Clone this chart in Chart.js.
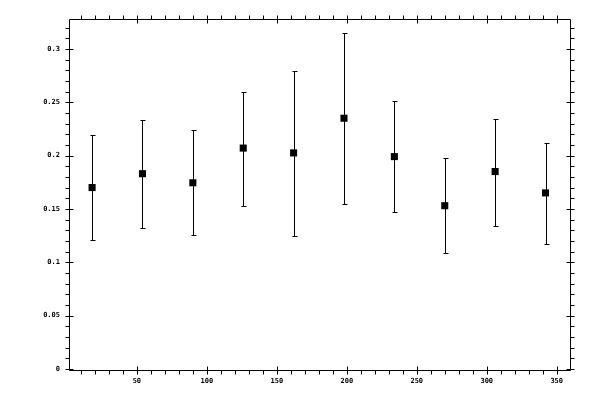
<!DOCTYPE html>
<html>
<head>
<meta charset="utf-8">
<script src="https://cdn.jsdelivr.net/npm/chart.js@4/dist/chart.umd.min.js"></script>
<style>
  html, body { margin: 0; padding: 0; background: #fff; }
</style>
</head>
<body>
<canvas id="mycanvas" width="600" height="400"></canvas>
<script>
// data
var xValues = [18, 54, 90, 126, 162, 198, 234, 270, 306, 342];
var means   = [0.170, 0.183, 0.1745, 0.207, 0.2025, 0.235, 0.199, 0.153, 0.185, 0.165];
var uppers  = [0.219, 0.233, 0.224, 0.260, 0.279, 0.315, 0.251, 0.198, 0.234, 0.212];
var lowers  = [0.121, 0.132, 0.126, 0.153, 0.125, 0.155, 0.147, 0.109, 0.134, 0.1175];
var xMajorTicks = [50, 100, 150, 200, 250, 300, 350];
var yMajorTicks = [0, 0.05, 0.1, 0.15, 0.2, 0.25, 0.3];

var points = [];
for (var i in xValues) {
    points.push({x: xValues[i], y: means[i]});
}

var labelFont = {family: 'DejaVu Sans Mono', size: 7, weight: 'bold'};

// error bars, drawn under the squares
var errorBars = {
    id: 'errorBars',
    beforeDatasetsDraw: function (chart) {
        var ctx = chart.ctx, xs = chart.scales.x, ys = chart.scales.y;
        ctx.save();
        ctx.strokeStyle = '#000';
        ctx.lineWidth = 1;
        for (var i = 0; i < xValues.length; i++) {
            var px = Math.round(xs.getPixelForValue(xValues[i])) + 0.5;
            var top = Math.round(ys.getPixelForValue(uppers[i])) + 0.5;
            var bot = Math.round(ys.getPixelForValue(lowers[i])) + 0.5;
            ctx.beginPath();
            ctx.moveTo(px, top); ctx.lineTo(px, bot);
            ctx.moveTo(px - 2, top); ctx.lineTo(px + 3, top);
            ctx.moveTo(px - 2, bot); ctx.lineTo(px + 3, bot);
            ctx.stroke();
        }
        ctx.restore();
    }
};

// box frame with ticks on all four sides
var frame = {
    id: 'frame',
    afterDraw: function (chart) {
        var ctx = chart.ctx, a = chart.chartArea, xs = chart.scales.x, ys = chart.scales.y;
        var L = Math.round(a.left) + 0.5, R = Math.round(a.right) + 0.5;
        var T = Math.round(a.top) + 0.5, B = Math.round(a.bottom) + 0.5;
        ctx.save();
        ctx.strokeStyle = '#000';
        ctx.lineWidth = 1;
        ctx.beginPath();
        ctx.rect(L, T, R - L, B - T);
        for (var v = 10; v <= 350; v += 10) {
            var px = Math.round(xs.getPixelForValue(v)) + 0.5;
            var major = xMajorTicks.indexOf(v) >= 0;
            ctx.moveTo(px, B + 4); ctx.lineTo(px, major ? B - 4 : B);
            ctx.moveTo(px, T - 4); ctx.lineTo(px, major ? T + 4 : T);
        }
        for (var k = 0; k <= 32; k++) {
            var py = Math.round(ys.getPixelForValue(k / 100)) + 0.5;
            var ymaj = k % 5 === 0;
            ctx.moveTo(L - 4, py); ctx.lineTo(ymaj ? L + 4 : L, py);
            ctx.moveTo(R + 4, py); ctx.lineTo(ymaj ? R - 4 : R, py);
        }
        ctx.stroke();
        ctx.restore();
    }
};

var ctx = document.getElementById('mycanvas');
var myChart = new Chart(ctx, {
    type: 'scatter',
    data: {
        datasets: [{
            data: points,
            backgroundColor: '#000',
            borderColor: '#000',
            borderWidth: 0,
            pointStyle: 'rect',
            pointRadius: 5,
            pointHoverRadius: 5
        }]
    },
    options: {
        responsive: false,
        animation: false,
        devicePixelRatio: 1,
        layout: {padding: {left: 0, top: 19, right: 30, bottom: 0}},
        plugins: {legend: {display: false}, tooltip: {enabled: false}},
        scales: {
            x: {
                type: 'linear',
                min: 1.5,
                max: 359.5,
                grid: {display: false, drawTicks: false},
                border: {display: false},
                afterFit: function (scale) { scale.height = 30; },
                afterBuildTicks: function (scale) {
                    scale.ticks = xMajorTicks.map(function (v) { return {value: v}; });
                },
                ticks: {
                    color: '#000',
                    font: labelFont,
                    padding: 7,
                    maxRotation: 0,
                    autoSkip: false,
                    callback: function (v) { return String(v); }
                }
            },
            y: {
                type: 'linear',
                min: -0.001,
                max: 0.328,
                grid: {display: false, drawTicks: false},
                border: {display: false},
                afterFit: function (scale) { scale.width = 69; },
                afterBuildTicks: function (scale) {
                    scale.ticks = yMajorTicks.map(function (v) { return {value: v}; });
                },
                ticks: {
                    color: '#000',
                    font: labelFont,
                    padding: 9,
                    autoSkip: false,
                    callback: function (v) { return String(+v.toFixed(2)); }
                }
            }
        }
    },
    plugins: [errorBars, frame]
});
</script>
</body>
</html>
